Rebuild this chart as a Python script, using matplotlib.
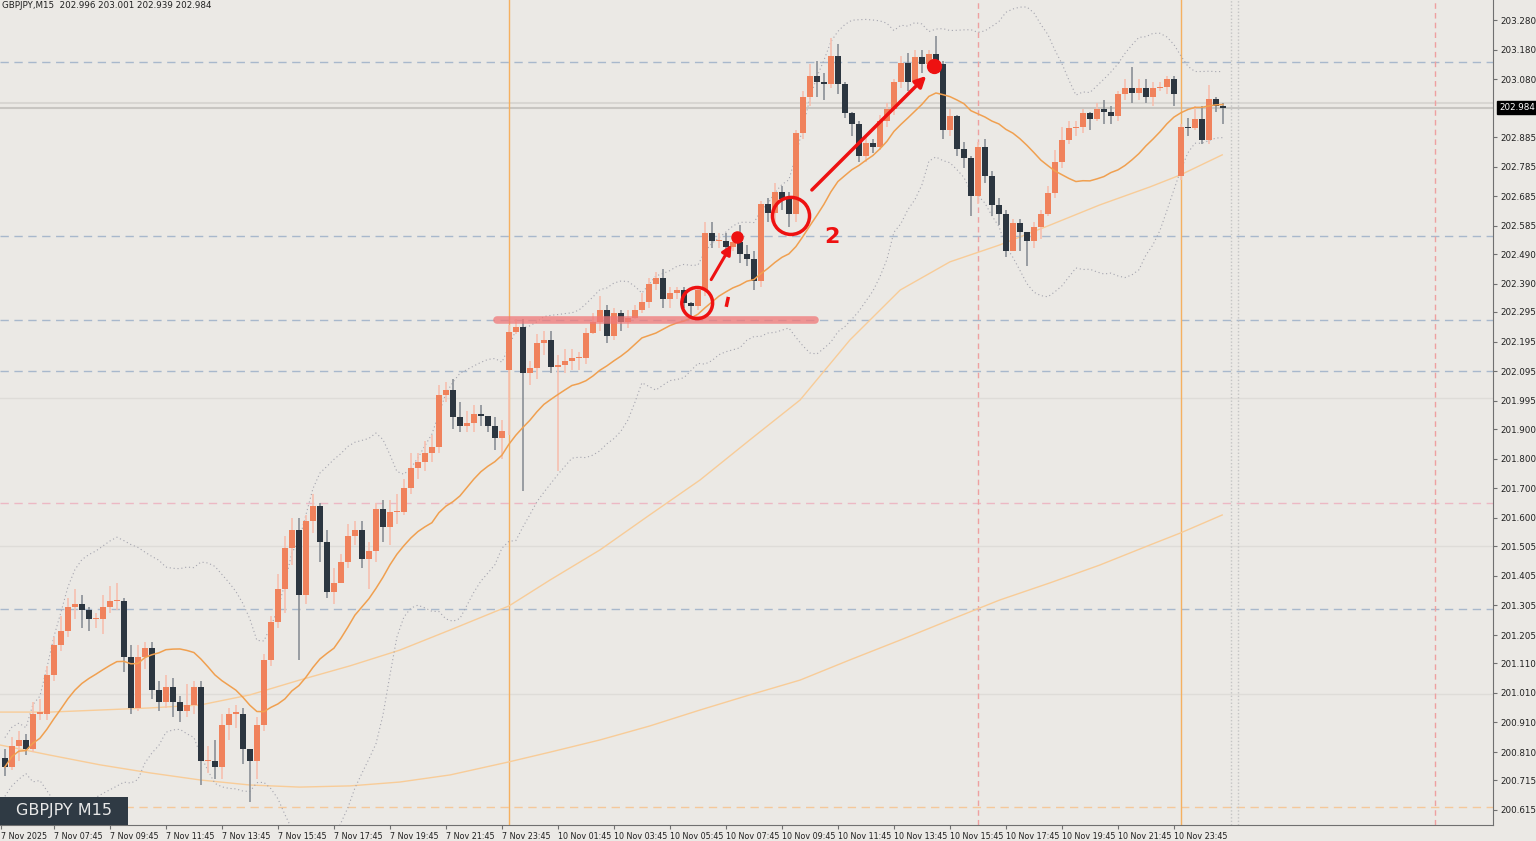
import matplotlib
matplotlib.use("Agg")
import matplotlib.pyplot as plt
from matplotlib.patches import Ellipse, FancyBboxPatch
import numpy as np
import pandas as pd

# M15 closes (bar 0 = 7 Nov 06:00)
closes = [200.76, 200.83, 200.85, 200.82, 200.94, 200.94, 201.07, 201.17, 201.22, 201.30,
          201.31, 201.29, 201.26, 201.26, 201.30, 201.32, 201.32, 201.13, 200.96, 201.13,
          201.16, 201.02, 200.98, 201.03, 200.98, 200.95, 200.97, 201.03, 200.78, 200.78,
          200.76, 200.90, 200.94, 200.94, 200.82, 200.78, 200.90, 201.12, 201.25, 201.36,
          201.50, 201.56, 201.34, 201.59, 201.64, 201.52, 201.35, 201.38, 201.45, 201.54,
          201.56, 201.46, 201.49, 201.63, 201.57, 201.62, 201.62, 201.70, 201.77, 201.79,
          201.82, 201.84, 202.015, 202.03, 201.94, 201.91, 201.92, 201.95, 201.945, 201.91,
          201.87, 201.895, 202.227, 202.245, 202.09, 202.106, 202.19, 202.20, 202.11, 202.115,
          202.13, 202.14, 202.14, 202.225, 202.26, 202.30, 202.215, 202.29, 202.26, 202.275,
          202.30, 202.33, 202.39, 202.41, 202.34, 202.36, 202.37, 202.325, 202.315, 202.37,
          202.56, 202.535, 202.535, 202.515, 202.53, 202.49, 202.475, 202.40, 202.66, 202.63,
          202.70, 202.675, 202.625, 202.90, 203.02, 203.09, 203.07, 203.065, 203.16, 203.065,
          202.965, 202.93, 202.82, 202.865, 202.85, 202.94, 202.98, 203.07, 203.135, 203.07,
          203.155, 203.13, 203.165, 203.13, 202.91, 202.955, 202.845, 202.815, 202.685, 202.85,
          202.755, 202.655, 202.625, 202.50, 202.595, 202.565, 202.535, 202.58, 202.625, 202.695,
          202.80, 202.875, 202.915, 202.92, 202.965, 202.945, 202.98, 202.97, 202.955, 203.03,
          203.05, 203.035, 203.05, 203.02, 203.05, 203.055, 203.08, 203.03, 202.92, 202.915,
          202.945, 202.875, 203.015, 202.99, 202.984]
highs = [200.82, 200.86, 200.88, 200.87, 200.98, 200.99, 201.10, 201.20, 201.27, 201.33,
         201.36, 201.34, 201.30, 201.28, 201.34, 201.37, 201.38, 201.33, 201.17, 201.17,
         201.18, 201.18, 201.05, 201.07, 201.06, 201.00, 201.04, 201.05, 201.05, 200.83,
         200.85, 200.94, 200.96, 200.97, 200.96, 200.82, 200.93, 201.14, 201.27, 201.41,
         201.54, 201.60, 201.60, 201.61, 201.68, 201.65, 201.56, 201.43, 201.48, 201.58,
         201.59, 201.59, 201.52, 201.65, 201.66, 201.66, 201.68, 201.73, 201.82, 201.82,
         201.86, 201.88, 202.05, 202.06, 202.07, 201.99, 201.96, 201.98, 201.98, 201.94,
         201.94, 201.93, 202.25, 202.27, 202.27, 202.13, 202.22, 202.23, 202.23, 202.15,
         202.17, 202.17, 202.16, 202.24, 202.29, 202.35, 202.32, 202.31, 202.30, 202.30,
         202.32, 202.36, 202.41, 202.43, 202.44, 202.38, 202.38, 202.38, 202.33, 202.38,
         202.60, 202.60, 202.56, 202.56, 202.55, 202.59, 202.52, 202.50, 202.67, 202.68,
         202.73, 202.72, 202.70, 202.91, 203.04, 203.13, 203.14, 203.10, 203.22, 203.20,
         203.07, 202.97, 202.94, 202.89, 202.88, 202.96, 203.00, 203.08, 203.16, 203.17,
         203.18, 203.18, 203.18, 203.225, 203.14, 202.98, 202.96, 202.87, 202.82, 202.87,
         202.88, 202.77, 202.68, 202.64, 202.61, 202.61, 202.56, 202.60, 202.64, 202.72,
         202.84, 202.92, 202.94, 202.94, 202.98, 202.97, 203.00, 203.01, 202.99, 203.04,
         203.08, 203.12, 203.08, 203.08, 203.07, 203.07, 203.09, 203.09, 202.93, 202.95,
         202.99, 202.99, 203.06, 203.02, 203.00]
lows = [200.73, 200.75, 200.78, 200.80, 200.81, 200.92, 200.92, 201.05, 201.15, 201.20,
        201.26, 201.23, 201.22, 201.23, 201.21, 201.28, 201.29, 201.08, 200.94, 200.95,
        201.09, 200.99, 200.95, 200.96, 200.93, 200.91, 200.93, 200.94, 200.70, 200.74,
        200.72, 200.72, 200.85, 200.89, 200.77, 200.64, 200.72, 200.88, 201.10, 201.23,
        201.28, 201.44, 201.12, 201.31, 201.55, 201.45, 201.33, 201.31, 201.38, 201.43,
        201.51, 201.43, 201.36, 201.45, 201.52, 201.51, 201.58, 201.61, 201.68, 201.73,
        201.76, 201.79, 201.82, 201.99, 201.90, 201.89, 201.89, 201.89, 201.91, 201.89,
        201.83, 201.80, 201.88, 202.22, 201.69, 202.05, 202.07, 202.15, 202.09, 201.76,
        202.09, 202.10, 202.10, 202.12, 202.22, 202.23, 202.19, 202.20, 202.23, 202.24,
        202.27, 202.29, 202.31, 202.37, 202.31, 202.31, 202.34, 202.31, 202.28, 202.30,
        202.35, 202.51, 202.51, 202.48, 202.50, 202.46, 202.45, 202.37, 202.38, 202.60,
        202.60, 202.64, 202.58, 202.60, 202.88, 202.99, 203.02, 203.01, 203.05, 203.03,
        202.95, 202.89, 202.80, 202.80, 202.83, 202.84, 202.92, 202.96, 203.05, 203.04,
        203.06, 203.10, 203.12, 203.10, 202.88, 202.89, 202.82, 202.78, 202.62, 202.66,
        202.73, 202.62, 202.59, 202.48, 202.55, 202.50, 202.45, 202.51, 202.54, 202.62,
        202.68, 202.78, 202.86, 202.89, 202.90, 202.91, 202.94, 202.93, 202.93, 202.94,
        203.01, 203.00, 203.01, 203.00, 202.99, 203.04, 203.03, 202.99, 202.74, 202.89,
        202.91, 202.86, 202.86, 202.97, 202.93]
# opens follow the previous close except at the gaps below
open_gaps = {0: 200.79, 72: 202.10, 168: 202.755}

# slower moving averages, read at bar positions
slow_x = [-0.7, 6.4, 13.6, 20.7, 27.9, 35, 42.1, 49.3, 56.4, 63.6, 72, 77.9, 85, 92.1, 99.3,
          106.4, 113.6, 120.7, 127.9, 135, 142.1, 149.3, 156.4, 163.6, 167.9, 173.9]
ma_mid = [200.945, 200.945, 200.952, 200.959, 200.969, 201.003, 201.053, 201.101, 201.154,
          201.222, 201.303, 201.391, 201.492, 201.610, 201.728, 201.863, 201.998, 202.200,
          202.369, 202.464, 202.521, 202.588, 202.656, 202.717, 202.757, 202.825]
ma_slow = [200.834, 200.800, 200.767, 200.740, 200.716, 200.699, 200.692, 200.696, 200.709,
           200.733, 200.777, 200.810, 200.851, 200.898, 200.952, 201.003, 201.053, 201.121,
           201.188, 201.256, 201.323, 201.381, 201.441, 201.509, 201.549, 201.610]

tick_vals = [203.280, 203.180, 203.080, 202.885, 202.785, 202.685, 202.585, 202.490, 202.390,
             202.295, 202.195, 202.095, 201.995, 201.900, 201.800, 201.700, 201.600, 201.505,
             201.405, 201.305, 201.205, 201.110, 201.010, 200.910, 200.810, 200.715, 200.615]
time_labels = ["7 Nov 2025", "7 Nov 07:45", "7 Nov 09:45", "7 Nov 11:45", "7 Nov 13:45",
               "7 Nov 15:45", "7 Nov 17:45", "7 Nov 19:45", "7 Nov 21:45", "7 Nov 23:45",
               "10 Nov 01:45", "10 Nov 03:45", "10 Nov 05:45", "10 Nov 07:45", "10 Nov 09:45",
               "10 Nov 11:45", "10 Nov 13:45", "10 Nov 15:45", "10 Nov 17:45", "10 Nov 19:45",
               "10 Nov 21:45", "10 Nov 23:45"]
time_pos = [-0.6] + [7 + 8 * k for k in range(21)]

bg = "#ebe9e5"
bull = "#f0825c"
bear = "#2c3640"

opens = [open_gaps.get(0)] + closes[:-1]
for k, v in open_gaps.items():
    opens[k] = v

n = len(closes)
idx = np.arange(n)
s = pd.Series(closes)
ma20 = s.rolling(20, min_periods=1).mean()
sd20 = s.rolling(20, min_periods=2).std().bfill()

fig = plt.figure(figsize=(15.36, 8.41), dpi=100, facecolor=bg)
ax = fig.add_axes([0, 1 - 825 / 841, 1493 / 1536, 825 / 841])
ax.set_facecolor(bg)

y_top = 203.280 + 20 / 296.4
y_bot = 203.280 - 805 / 296.4
ax.set_ylim(y_bot, y_top)
ax.set_xlim(-0.7, 1493 / 7 - 0.7)

# horizontal levels
for p in [203.138, 202.55, 202.095, 201.293, 202.268]:
    ax.axhline(p, color="#a8b8cc", lw=1, ls=(0, (6, 4)), zorder=1)
ax.axhline(201.65, color="#ecb8c4", lw=1, ls=(0, (6, 4)), zorder=1)
ax.axhline(200.625, color="#f5c89a", lw=1, ls=(0, (6, 4)), zorder=1)
for p in [202.005, 201.505, 201.005]:
    ax.axhline(p, color="#dedcd8", lw=1, zorder=1)
ax.axhline(203.0, color="#d8d6d2", lw=1.5, zorder=1)
ax.axhline(202.984, color="#c8c6c2", lw=1.5, zorder=1)

# vertical separators
for xv in [72, 168]:
    ax.axvline(xv, color="#f5b060", lw=1, zorder=1)
for xv in [139, 204.3]:
    ax.axvline(xv, color="#eea0a0", lw=1, ls=(0, (4, 3)), zorder=1)
for xv in [175.1, 176.1]:
    ax.axvline(xv, color="#c4c4c4", lw=1, ls=(0, (1, 1.5)), zorder=1)

# indicators
ax.plot(slow_x, ma_slow, color="#f8cc98", lw=1, zorder=2)
ax.plot(slow_x, ma_mid, color="#f8cc98", lw=1, zorder=2)
ax.plot(idx, ma20 + 2 * sd20, color="#a4a4ae", lw=0.8, ls=(0, (1, 2.5)), zorder=2)
ax.plot(idx, ma20 - 2 * sd20, color="#a4a4ae", lw=0.8, ls=(0, (1, 2.5)), zorder=2)
ax.plot(idx, ma20, color="#f0a050", lw=1.1, zorder=4)

# candles
for i in range(n):
    o, c, h, l = opens[i], closes[i], highs[i], lows[i]
    col = bull if c >= o else bear
    wick = "#f6c0b0" if c >= o else "#8a9096"
    ax.plot([i, i], [l, h], color=wick, lw=1.2, zorder=3, solid_capstyle="butt")
    body = max(abs(c - o), 0.004)
    ax.bar(i, body, bottom=min(o, c), width=0.75, color=col, zorder=3.5, linewidth=0)

# annotations
ax.plot([70.3, 115.7], [202.268, 202.268], color="#f07878", lw=5.5, alpha=0.75,
        solid_capstyle="round", zorder=5)
ax.add_patch(Ellipse((98.9, 202.325), 4.4, 0.105, fill=False, ec="#ee1111", lw=2.5, zorder=6))
ax.add_patch(Ellipse((112.3, 202.619), 5.3, 0.125, fill=False, ec="#ee1111", lw=2.5, zorder=6))
ax.annotate("", xy=(104.0, 202.53), xytext=(100.7, 202.396),
            arrowprops=dict(arrowstyle="-|>", color="#ee1111", lw=2.2, mutation_scale=14), zorder=6)
ax.plot(104.6, 202.548, "o", color="#ee1111", ms=8, zorder=6)
ax.annotate("", xy=(131.9, 203.098), xytext=(115.0, 202.70),
            arrowprops=dict(arrowstyle="-|>", color="#ee1111", lw=2.5, mutation_scale=16), zorder=6)
ax.plot(132.7, 203.125, "o", color="#ee1111", ms=10, zorder=6)
ax.plot([103.3, 103.1], [202.34, 202.318], color="#ee1111", lw=2.5, zorder=6)
ax.text(117.0, 202.548, "2", color="#ee1111", fontsize=16, fontweight="bold",
        ha="left", va="center", zorder=6)

# axes styling
for sp in ["top", "left"]:
    ax.spines[sp].set_visible(False)
ax.spines["right"].set_color("#707070")
ax.spines["bottom"].set_color("#707070")
ax.yaxis.tick_right()
ax.set_yticks(tick_vals)
ax.set_yticklabels(["%.3f" % v for v in tick_vals], fontsize=6.3, color="#202020")
ax.tick_params(axis="y", length=3, pad=2, color="#707070")
ax.set_xticks(time_pos)
ax.set_xticklabels(time_labels, fontsize=5.8, color="#202020", ha="left")
ax.tick_params(axis="x", length=3, pad=2, color="#707070")

# current price box
ax.text(1.004, 202.984, "202.984", transform=ax.get_yaxis_transform(), fontsize=6.3,
        color="white", ha="left", va="center",
        bbox=dict(boxstyle="square,pad=0.25", fc="black", ec="black"))

fig.text(0.001, 0.999, "GBPJPY,M15  202.996 203.001 202.939 202.984", fontsize=6.3,
         color="#202020", ha="left", va="top")
fig.patches.append(FancyBboxPatch((0, 16 / 841), 128 / 1536, 28 / 841, boxstyle="square,pad=0",
                                  transform=fig.transFigure, fc="#2f3a44", ec="none", zorder=10))
fig.text(64 / 1536, 30 / 841, "GBPJPY M15", fontsize=11.5, color="#e8e8e8",
         ha="center", va="center", zorder=11)

fig.savefig("out.png", dpi=100, facecolor=bg)
